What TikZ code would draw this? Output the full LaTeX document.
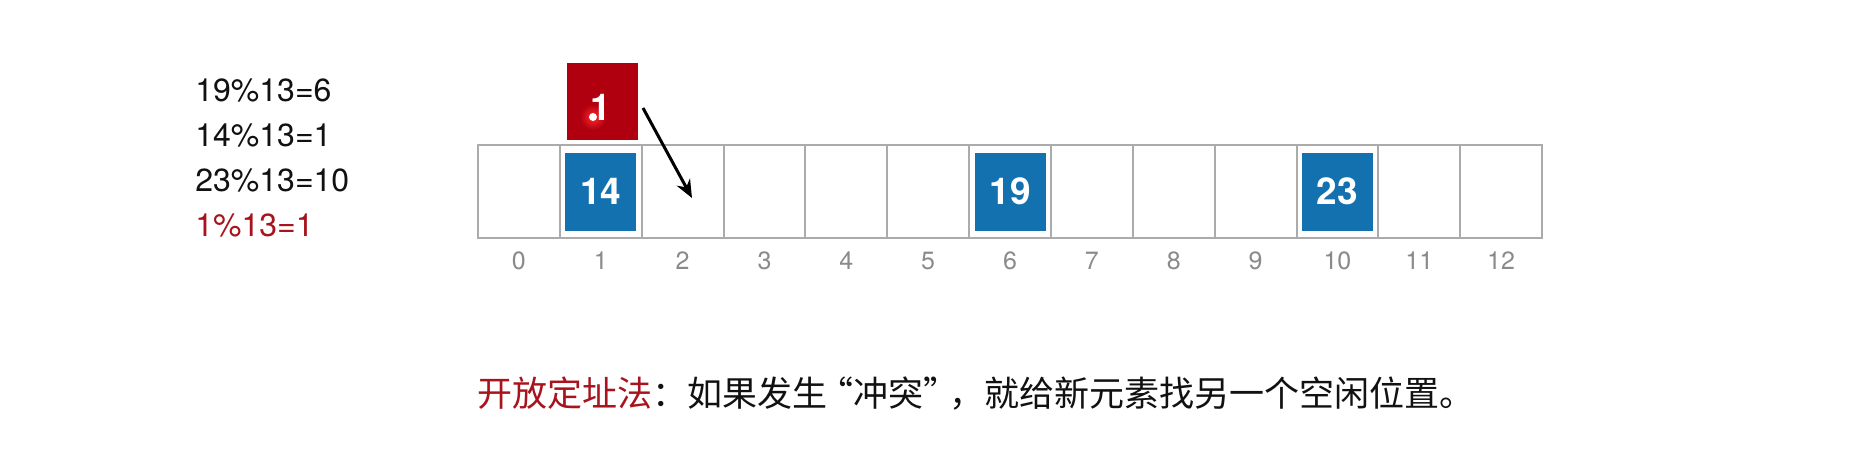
\documentclass[tikz,border=0pt]{standalone}
\usepackage{fontspec}
\setmainfont{TeX Gyre Heros}
\newfontfamily\cjk{Noto Sans CJK SC}
\usetikzlibrary{arrows.meta}
\definecolor{gridgray}{HTML}{ABABAB}
\definecolor{idxgray}{HTML}{8A8A8A}
\definecolor{boxblue}{HTML}{1271AE}
\definecolor{boxred}{HTML}{B00010}
\definecolor{glowred}{HTML}{FF2A2A}
\definecolor{txtred}{HTML}{A8141E}
\definecolor{txtblack}{HTML}{111111}
\tikzset{
  cell/.style={draw=gridgray, line width=1pt, minimum width=40.925pt, minimum height=46.5pt, inner sep=0pt, outer sep=0pt},
  valbox/.style={fill=boxblue, minimum width=35.5pt, minimum height=39pt, inner sep=0pt, text=white, font=\fontsize{18.5}{18.5}\selectfont\bfseries},
  newbox/.style={fill=boxred, minimum width=35.5pt, minimum height=38.5pt, inner sep=0pt},
  idx/.style={text=idxgray, font=\fontsize{12.5}{12.5}\selectfont, inner sep=0pt},
  eq/.style={anchor=west, inner sep=0pt, text=txtblack, font=\fontsize{16}{16}\selectfont},
  probe/.style={-{Stealth[length=9pt, width=7.5pt]}, line width=1.5pt, black}
}
\begin{document}
\begin{tikzpicture}[x=0.5pt, y=-0.5pt]
\useasboundingbox (0,0) rectangle (1864,466);
% cells and indices
\foreach \i in {0,...,12} {
  \node[cell] (c\i) at ({478+81.85*(\i+0.5)},191.5) {};
  \node[idx] (n\i) at ({478+81.85*(\i+0.5)},261) {\i};
}
% stored values
\node[valbox] (v14) at (c1) {14};
\node[valbox] (v19) at (c6) {19};
\node[valbox] (v23) at (c10) {23};
% new element
\node[newbox] (nb) at (602.5,101.5) {};
\shade[inner color=glowred, outer color=boxred] (593,117) circle (13);
\node[text=white, inner sep=0pt, font=\fontsize{18.5}{18.5}\selectfont\bfseries] (nbt) at (601,107) {1};
\fill[white] (593,117) circle (4);
% arrow
\coordinate (as) at (643,108);
\coordinate (ae) at (692,198);
\draw[probe] (as) -- (ae);
% hash computations
\node[eq] (e1) at (195,90) {19\%13=6};
\node[eq] (e2) at (195,135) {14\%13=1};
\node[eq] (e3) at (195,180) {23\%13=10};
\node[eq, text=txtred] (e4) at (195,225) {1\%13=1};
% caption
\node[anchor=west, inner sep=0pt, font=\cjk\fontsize{17.5}{17.5}\selectfont] (cap) at (477,394) {\textcolor{txtred}{开放定址法}\textcolor{txtblack}{：如果发生\makebox[0.75em][r]{“}冲突\makebox[0.75em][l]{”}，就给新元素找另一个空闲位置。}};
\end{tikzpicture}
\end{document}
